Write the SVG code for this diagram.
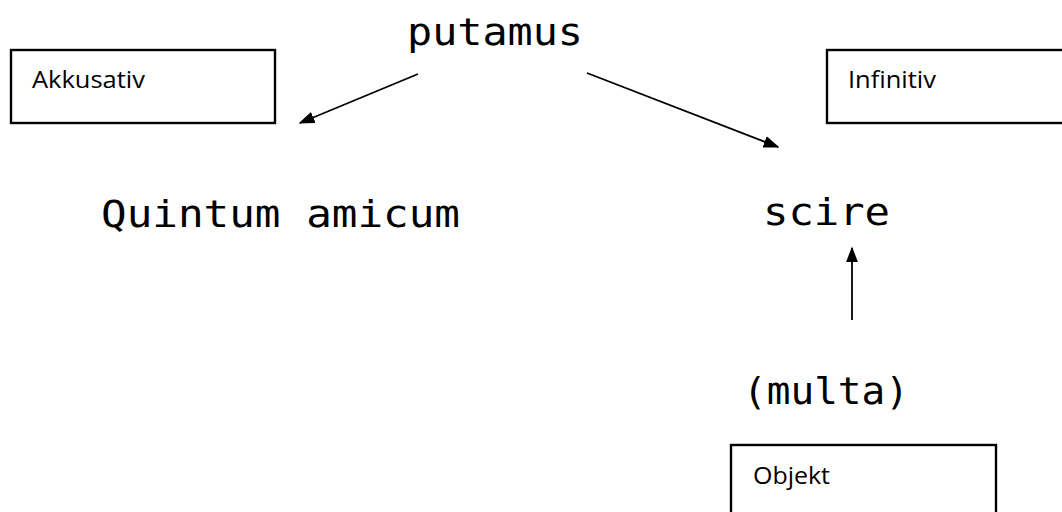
<svg xmlns="http://www.w3.org/2000/svg" width="1062" height="512" viewBox="0 0 1062 512">
<style>
.box{fill:#fff;stroke:#000;stroke-width:2.4}
.lbl{font-family:"Open Sans","Liberation Sans",sans-serif;font-size:23px;fill:#000}
.word{font-family:"DejaVu Sans Mono","Liberation Mono",monospace;font-size:38px;fill:#000}
.arr{stroke:#000;stroke-width:1.8;fill:none;marker-end:url(#ah)}
</style>
<defs>
<marker id="ah" viewBox="0 0 10 10" refX="9" refY="5" markerWidth="16" markerHeight="12" markerUnits="userSpaceOnUse" orient="auto" preserveAspectRatio="none">
<path d="M0,0 L10,5 L0,10 Z" fill="#000"/>
</marker>
</defs>
<rect width="1062" height="512" fill="#fff"/>
<g id="akkusativ">
<rect class="box" x="11" y="50" width="264" height="73"/>
<text class="lbl" x="32" y="88" textLength="113" lengthAdjust="spacingAndGlyphs">Akkusativ</text>
</g>
<g id="infinitiv">
<rect class="box" x="827" y="50" width="250" height="73"/>
<text class="lbl" x="848" y="88" textLength="88" lengthAdjust="spacingAndGlyphs">Infinitiv</text>
</g>
<g id="objekt">
<rect class="box" x="731" y="445" width="265" height="80"/>
<text class="lbl" x="753" y="484" textLength="77" lengthAdjust="spacingAndGlyphs">Objekt</text>
</g>
<g id="putamus">
<text class="word" x="407" y="45" textLength="176" lengthAdjust="spacingAndGlyphs">putamus</text>
</g>
<g id="quintum-amicum">
<text class="word" x="101" y="227" textLength="359" lengthAdjust="spacingAndGlyphs">Quintum amicum</text>
</g>
<g id="scire">
<text class="word" x="763" y="225" textLength="127" lengthAdjust="spacingAndGlyphs">scire</text>
</g>
<g id="multa">
<text class="word" x="743" y="404" textLength="166" lengthAdjust="spacingAndGlyphs">(multa)</text>
</g>
<g id="connectors">
<line class="arr" x1="418" y1="74" x2="300" y2="123"/>
<line class="arr" x1="587" y1="73" x2="778" y2="147"/>
<line class="arr" x1="852" y1="320" x2="852" y2="248"/>
</g>
</svg>
